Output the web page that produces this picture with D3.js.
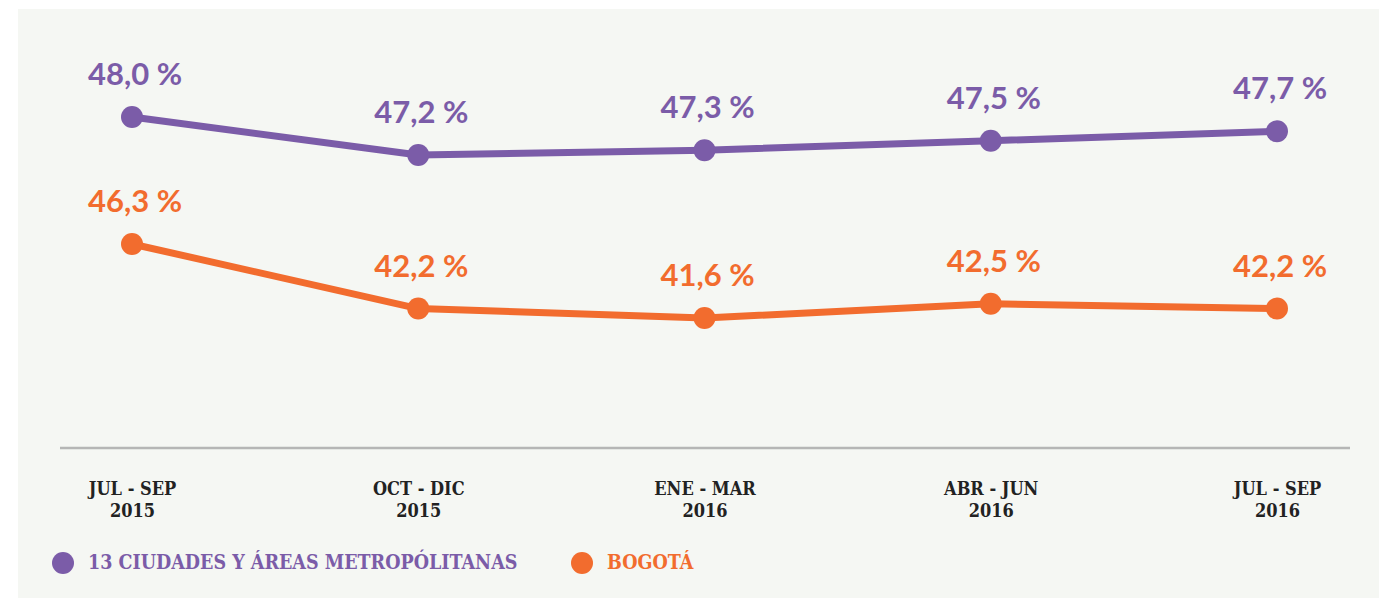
<!DOCTYPE html>
<html>
<head>
<meta charset="utf-8">
<script src="https://cdn.jsdelivr.net/npm/d3@7"></script>
<style>
  html, body { margin: 0; padding: 0; background: #ffffff; }
  svg { display: block; }
</style>
</head>
<body>
<svg id="chart" width="1379" height="598"></svg>
<script>
// ---- data ----
const periods = ["JUL - SEP|2015", "OCT - DIC|2015", "ENE - MAR|2016", "ABR - JUN|2016", "JUL - SEP|2016"];
const ciudades = [48.0, 47.2, 47.3, 47.5, 47.7];
const bogota = [46.3, 42.2, 41.6, 42.5, 42.2];
const seriesNames = ["13 CIUDADES Y ÁREAS METROPÓLITANAS", "BOGOTÁ"];

const purple = "#7b5ca8";
const orange = "#f26c2e";

const svg = d3.select("#chart");
const W = 1379, H = 598;

svg.append("rect").attr("x", 18).attr("y", 9).attr("width", W - 18).attr("height", H - 9)
  .attr("fill", "#f5f7f3");

const x = d3.scalePoint().domain(periods).range([132, 1277]);
// each series is drawn on its own vertical band
const yC = d3.scaleLinear().domain([47.2, 48.0]).range([155, 117]);
const yB = d3.scaleLinear().domain([41.6, 46.3]).range([318, 244]);

// x axis
const axisG = svg.append("g").attr("transform", "translate(0,448)");
const xAxis = d3.axisBottom(x).tickSize(0).tickFormat("");
axisG.call(xAxis);
axisG.select(".domain").attr("d", "M60,0H1350").attr("stroke", "#b5b6b5").attr("stroke-width", 2.5);
axisG.selectAll(".tick").each(function(d) {
  const parts = d.split("|");
  const t = d3.select(this).append("text")
    .attr("text-anchor", "middle")
    .attr("fill", "#222222")
    .style("font-family", "'DejaVu Serif Condensed', 'DejaVu Serif', serif")
    .style("font-weight", "bold")
    .style("font-size", "18px");
  t.append("tspan").attr("x", 0).attr("y", 47).text(parts[0]);
  t.append("tspan").attr("x", 0).attr("y", 69).text(parts[1]);
});

function drawSeries(vals, y, color) {
  const pts = vals.map((v, i) => [x(periods[i]), y(v), v]);
  svg.append("path")
    .attr("d", d3.line()(pts.map(p => [p[0], p[1]])))
    .attr("fill", "none").attr("stroke", color).attr("stroke-width", 7)
    .attr("stroke-linejoin", "round");
  svg.selectAll(null).data(pts).enter().append("circle")
    .attr("cx", p => p[0]).attr("cy", p => p[1]).attr("r", 11).attr("fill", color);
  svg.selectAll(null).data(pts).enter().append("text")
    .attr("x", p => p[0] + 3).attr("y", p => p[1] - 32)
    .attr("text-anchor", "middle")
    .attr("fill", color)
    .style("font-family", "Lato, sans-serif")
    .style("font-weight", "bold")
    .style("font-size", "31px")
    .text(p => d3.format(".1f")(p[2]).replace(".", ",") + " %");
}
drawSeries(ciudades, yC, purple);
drawSeries(bogota, yB, orange);

// legend
const legend = [
  {name: seriesNames[0], color: purple, cx: 63},
  {name: seriesNames[1], color: orange, cx: 582}
];
legend.forEach(l => {
  svg.append("circle").attr("cx", l.cx).attr("cy", 563).attr("r", 11).attr("fill", l.color);
  svg.append("text").attr("x", l.cx + 25).attr("y", 569)
    .attr("fill", l.color)
    .style("font-family", "'DejaVu Serif Condensed', 'DejaVu Serif', serif")
    .style("font-weight", "bold")
    .style("font-size", "19.5px")
    .text(l.name);
});
</script>
</body>
</html>
